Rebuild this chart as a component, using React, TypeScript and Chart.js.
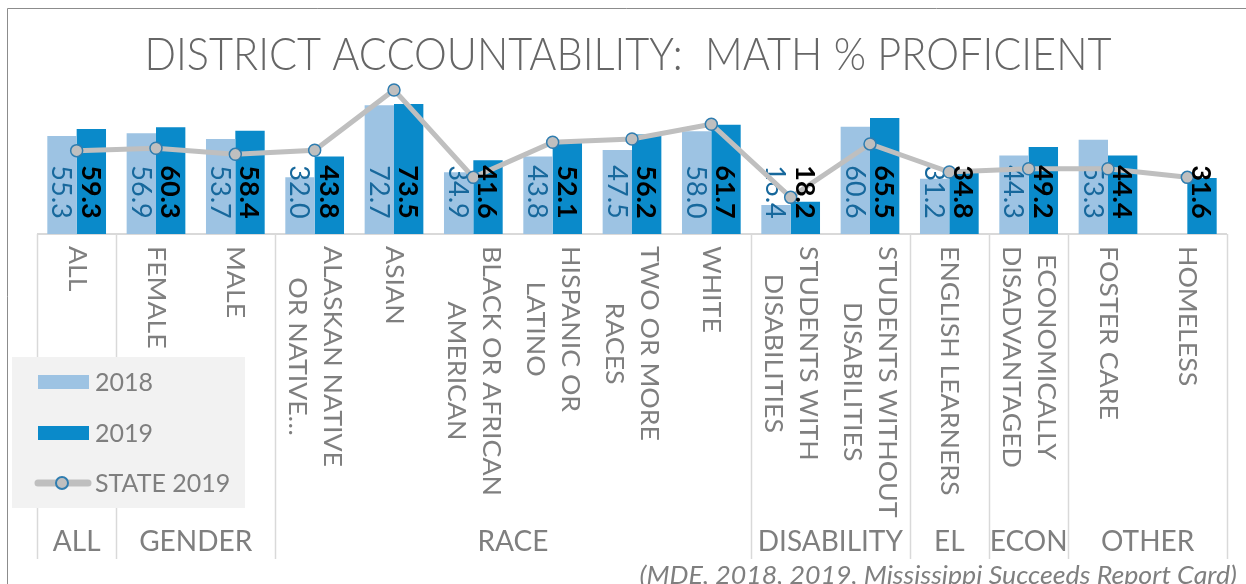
import React, { useEffect, useRef } from "react";
import { Chart, registerables } from "chart.js";

Chart.register(...registerables);

const categories: string[][] = [
  ["ALL"],
  ["FEMALE"],
  ["MALE"],
  ["ALASKAN NATIVE", "OR NATIVE…"],
  ["ASIAN"],
  ["BLACK OR AFRICAN", "AMERICAN"],
  ["HISPANIC OR", "LATINO"],
  ["TWO OR MORE", "RACES"],
  ["WHITE"],
  ["STUDENTS WITH", "DISABILITIES"],
  ["STUDENTS WITHOUT", "DISABILITIES"],
  ["ENGLISH LEARNERS"],
  ["ECONOMICALLY", "DISADVANTAGED"],
  ["FOSTER CARE"],
  ["HOMELESS"],
];
const groupNames = ["ALL", "GENDER", "RACE", "DISABILITY", "EL", "ECON", "OTHER"];
const groupSizes = [1, 2, 6, 2, 1, 1, 2];

const values2018: (number | null)[] = [55.3, 56.9, 53.7, 32.0, 72.7, 34.9, 43.8, 47.5, 58.0, 16.4, 60.6, 31.2, 44.3, 53.3, null];
const values2019: number[] = [59.3, 60.3, 58.4, 43.8, 73.5, 41.6, 52.1, 56.2, 61.7, 18.2, 65.5, 34.8, 49.2, 44.4, 31.6];
const state2019: number[] = [47.1, 48.4, 45.0, 47.3, 81.4, 32.0, 51.8, 53.7, 62.0, 20.7, 50.9, 35.0, 36.9, 36.9, 32.0];

const seriesNames = ["2018", "2019", "STATE 2019"];
const titleText = "DISTRICT ACCOUNTABILITY:  MATH % PROFICIENT";
const sourceText = "(MDE, 2018, 2019, Mississippi Succeeds Report Card)";

const FONT = "Lato, 'Open Sans', 'DejaVu Sans', sans-serif";
const C2018 = "#9DC3E3";
const C2019 = "#0A8ACA";
const CLINE = "#BFBFBF";
const CMARK = "#2F7DB0";
const CTEXT = "#7F7F7F";
const CSEP = "#D9D9D9";
const STRETCH = 1.07;

// draw text stretched along its reading direction
function stretchedText(ctx: any, text: string, x: number, y: number, sx: number) {
  ctx.save();
  ctx.translate(x, y);
  ctx.scale(sx, 1);
  ctx.fillText(text, 0, 0);
  ctx.restore();
}

function drawBarLabels(chart: any, dsIndex: number) {
  const ctx = chart.ctx;
  const meta = chart.getDatasetMeta(dsIndex);
  const yScale = chart.scales.y;
  const base = yScale.getPixelForValue(0);
  const data = chart.data.datasets[dsIndex].data as (number | null)[];
  ctx.save();
  ctx.font = dsIndex === 0 ? `400 27px ${FONT}` : `700 27px ${FONT}`;
  ctx.fillStyle = dsIndex === 0 ? "#17689C" : "#000000";
  ctx.textAlign = "center";
  ctx.textBaseline = "middle";
  meta.data.forEach((el: any, i: number) => {
    const v = data[i];
    if (v === null || v === undefined) return;
    ctx.save();
    ctx.translate(el.x - 1, base - 42);
    ctx.rotate(Math.PI / 2);
    ctx.fillText(v.toFixed(1), 0, 0);
    ctx.restore();
  });
  ctx.restore();
}

const decorPlugin = {
  id: "decor",
  beforeDraw(chart: any) {
    const ctx = chart.ctx;
    const area = chart.chartArea;
    const xs = chart.scales.x;
    const ys = chart.scales.y;
    const base = ys.getPixelForValue(0);
    const W = chart.width;
    const H = chart.height;
    ctx.save();
    ctx.fillStyle = "#FFFFFF";
    ctx.fillRect(0, 0, W, H);
    // frame
    ctx.strokeStyle = "#8C8C8C";
    ctx.lineWidth = 1;
    ctx.beginPath();
    ctx.moveTo(7.5, H);
    ctx.lineTo(7.5, 8.5);
    ctx.lineTo(W, 8.5);
    ctx.stroke();
    // title
    ctx.fillStyle = "#666666";
    ctx.font = `300 46px ${FONT}`;
    ctx.textAlign = "center";
    ctx.textBaseline = "alphabetic";
    const tw = ctx.measureText(titleText).width;
    stretchedText(ctx, titleText, 628, 70, 967 / tw);

    // axis line
    ctx.strokeStyle = CSEP;
    ctx.lineWidth = 2;
    ctx.beginPath();
    ctx.moveTo(area.left, base);
    ctx.lineTo(area.right, base);
    ctx.stroke();

    // group separators
    const n = categories.length;
    const boundary = (i: number) => {
      if (i <= 0) return area.left;
      if (i >= n) return area.right;
      return (xs.getPixelForValue(i - 1) + xs.getPixelForValue(i)) / 2;
    };
    let start = 0;
    const sepBottom = 559;
    ctx.lineWidth = 1.5;
    const bounds: number[] = [0];
    groupSizes.forEach((s) => {
      start += s;
      bounds.push(start);
    });
    bounds.forEach((b) => {
      const x = Math.round(boundary(b)) + 0.5;
      ctx.beginPath();
      ctx.moveTo(x, base);
      ctx.lineTo(x, sepBottom);
      ctx.stroke();
    });

    // category labels (rotated clockwise)
    ctx.fillStyle = CTEXT;
    ctx.font = `400 25px ${FONT}`;
    ctx.textAlign = "center";
    ctx.textBaseline = "middle";
    const pitch = 35;
    categories.forEach((lines, i) => {
      const cx = xs.getPixelForValue(i);
      const maxW = Math.max(...lines.map((l) => ctx.measureText(l).width)) * STRETCH;
      const cy = base + 12 + maxW / 2;
      lines.forEach((line, k) => {
        const x = cx + ((lines.length - 1) / 2 - k) * pitch;
        ctx.save();
        ctx.translate(x, cy);
        ctx.rotate(Math.PI / 2);
        ctx.scale(STRETCH, 1);
        ctx.fillText(line, 0, 0);
        ctx.restore();
      });
    });

    // group labels
    ctx.font = `400 28px ${FONT}`;
    ctx.textBaseline = "alphabetic";
    for (let g = 0; g < groupNames.length; g++) {
      const x0 = boundary(bounds[g]);
      const x1 = boundary(bounds[g + 1]);
      ctx.fillText(groupNames[g], (x0 + x1) / 2, 551);
    }

    // source
    ctx.font = `italic 400 25px ${FONT}`;
    ctx.textAlign = "right";
    stretchedText(ctx, sourceText, 1237, 584, STRETCH);
    ctx.restore();
  },
  afterDatasetDraw(chart: any, args: any) {
    if (args.index === 0) drawBarLabels(chart, 0);
  },
  afterDatasetsDraw(chart: any) {
    drawBarLabels(chart, 1);
    // legend
    const ctx = chart.ctx;
    ctx.save();
    ctx.fillStyle = "#F2F2F2";
    ctx.fillRect(12, 357, 233, 151);
    ctx.fillStyle = C2018;
    ctx.fillRect(38, 375, 51, 14);
    ctx.fillStyle = C2019;
    ctx.fillRect(38, 426, 51, 14);
    ctx.strokeStyle = CLINE;
    ctx.lineWidth = 7;
    ctx.lineCap = "round";
    ctx.beginPath();
    ctx.moveTo(38, 483);
    ctx.lineTo(88, 483);
    ctx.stroke();
    ctx.beginPath();
    ctx.arc(62, 483, 6, 0, Math.PI * 2);
    ctx.fillStyle = CLINE;
    ctx.fill();
    ctx.lineWidth = 2;
    ctx.strokeStyle = CMARK;
    ctx.stroke();
    ctx.fillStyle = CTEXT;
    ctx.font = `400 25px ${FONT}`;
    ctx.textAlign = "left";
    ctx.textBaseline = "middle";
    ctx.fillText(seriesNames[0], 95, 383);
    ctx.fillText(seriesNames[1], 95, 434);
    ctx.fillText(seriesNames[2], 95, 484);
    ctx.restore();
  },
};

export default function App() {
  const ref = useRef<HTMLCanvasElement | null>(null);
  useEffect(() => {
    if (!ref.current) return;
    const chart = new Chart(ref.current, {
      type: "bar",
      data: {
        labels: categories.map((c) => c.join(" ")),
        datasets: [
          {
            label: seriesNames[0],
            data: values2018,
            backgroundColor: C2018,
            borderWidth: 0,
            categoryPercentage: 0.74,
            barPercentage: 1.0,
            order: 1,
          },
          {
            label: seriesNames[1],
            data: values2019,
            backgroundColor: C2019,
            borderWidth: 0,
            categoryPercentage: 0.74,
            barPercentage: 1.0,
            order: 1,
          },
          {
            type: "line",
            label: seriesNames[2],
            data: state2019,
            borderColor: CLINE,
            borderWidth: 5,
            pointRadius: 6,
            pointBackgroundColor: CLINE,
            pointBorderColor: CMARK,
            pointBorderWidth: 1.5,
            tension: 0,
            order: 0,
          } as any,
        ],
      },
      options: {
        responsive: false,
        animation: false,
        devicePixelRatio: 1,
        layout: { padding: { left: 37, right: 19, top: 57, bottom: 350 } },
        scales: {
          x: { display: false, offset: true },
          y: { display: false, min: 0, max: 100 },
        },
        plugins: {
          legend: { display: false },
          title: { display: false },
          tooltip: { enabled: false },
        },
      },
      plugins: [decorPlugin],
    });
    return () => chart.destroy();
  }, []);
  return (
    <div style={{ position: "fixed", left: 0, top: 0, width: 1246, height: 584, background: "#fff" }}>
      <canvas ref={ref} width={1246} height={584} style={{ display: "block", width: 1246, height: 584 }} />
    </div>
  );
}
